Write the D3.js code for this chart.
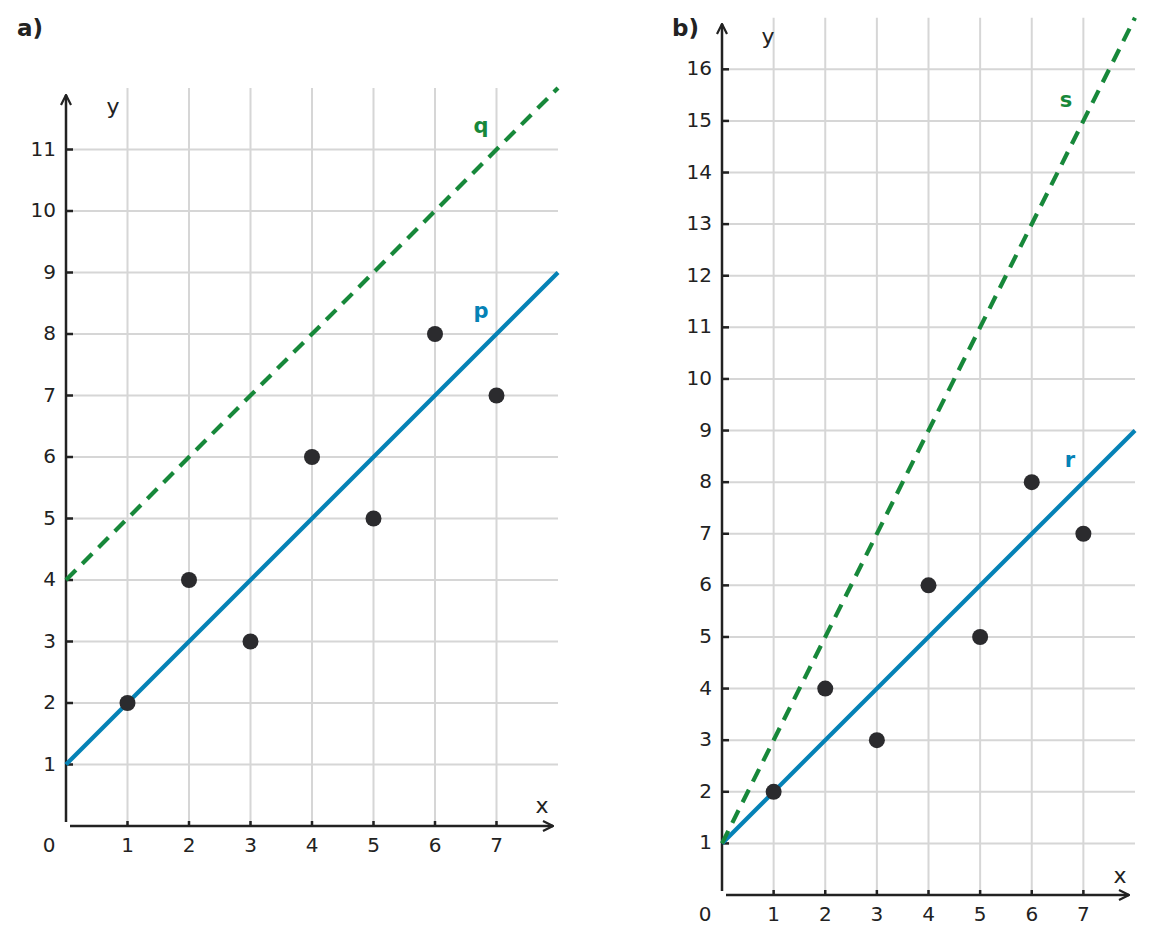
<!DOCTYPE html>
<html>
<head>
<meta charset="utf-8">
<script src="https://d3js.org/d3.v7.min.js"></script>
<style>
  body { margin: 0; background: #fff; }
  svg text { font-family: "DejaVu Sans", sans-serif; fill: #222; }
</style>
</head>
<body>
<svg id="chart" width="1153" height="944"></svg>
<script>
// data points shared by both panels
const pointsX = [1, 2, 3, 4, 5, 6, 7];
const pointsY = [2, 4, 3, 6, 5, 8, 7];
const xTicks = [1, 2, 3, 4, 5, 6, 7];
const ticksA = [1, 2, 3, 4, 5, 6, 7, 8, 9, 10, 11];
const ticksB = [1, 2, 3, 4, 5, 6, 7, 8, 9, 10, 11, 12, 13, 14, 15, 16];
// lines as [slope, intercept]
const linesA = [
  { name: "p", m: 1, b: 1, dashed: false },
  { name: "q", m: 1, b: 4, dashed: true }
];
const linesB = [
  { name: "r", m: 1, b: 1, dashed: false },
  { name: "s", m: 2, b: 1, dashed: true }
];

const BLUE = "#0582b6", GREEN = "#17883a", DARK = "#222";
const svg = d3.select("#chart");

svg.append("defs").append("marker")
  .attr("id", "arrow").attr("viewBox", "0 0 12 12")
  .attr("refX", 11).attr("refY", 6)
  .attr("markerWidth", 12).attr("markerHeight", 12)
  .attr("markerUnits", "userSpaceOnUse").attr("orient", "auto")
  .append("path").attr("d", "M1,1 L11,6 L1,11")
  .attr("fill", "none").attr("stroke", DARK).attr("stroke-width", 2.2);

function panel(opt) {
  const x = d3.scaleLinear().domain([0, 8]).range(opt.xr);
  const y = d3.scaleLinear().domain([0, opt.ymax]).range(opt.yr);
  const g = svg.append("g");

  // grid
  g.selectAll(".vg").data(xTicks).join("line")
    .attr("x1", d => x(d)).attr("x2", d => x(d))
    .attr("y1", y(0)).attr("y2", y(opt.ymax))
    .attr("stroke", "#d6d6d6").attr("stroke-width", 2);
  g.selectAll(".hg").data(opt.yTicks).join("line")
    .attr("x1", x(0)).attr("x2", x(8))
    .attr("y1", d => y(d)).attr("y2", d => y(d))
    .attr("stroke", "#d6d6d6").attr("stroke-width", 2);

  // axes with arrows
  g.append("line")
    .attr("x1", x(0)).attr("x2", x(0))
    .attr("y1", y(0) - 4).attr("y2", opt.yArrow)
    .attr("stroke", DARK).attr("stroke-width", 2.5)
    .attr("marker-end", "url(#arrow)");
  g.append("line")
    .attr("x1", x(0) + 4).attr("x2", opt.xArrow)
    .attr("y1", y(0)).attr("y2", y(0))
    .attr("stroke", DARK).attr("stroke-width", 2.5)
    .attr("marker-end", "url(#arrow)");

  // ticks
  g.selectAll(".yt").data(opt.yTicks).join("line")
    .attr("x1", x(0)).attr("x2", x(0) + 7)
    .attr("y1", d => y(d)).attr("y2", d => y(d))
    .attr("stroke", DARK).attr("stroke-width", 2.5);
  g.selectAll(".xt").data(xTicks).join("line")
    .attr("x1", d => x(d)).attr("x2", d => x(d))
    .attr("y1", y(0)).attr("y2", y(0) - 5)
    .attr("stroke", DARK).attr("stroke-width", 2.5);

  // tick labels
  g.selectAll(".yl").data(opt.yTicks).join("text")
    .attr("x", x(0) - 10).attr("y", d => y(d) + 6)
    .attr("text-anchor", "end").attr("font-size", 20).text(d => d);
  g.selectAll(".xl").data(xTicks).join("text")
    .attr("x", d => x(d)).attr("y", y(0) + 26)
    .attr("text-anchor", "middle").attr("font-size", 20).text(d => d);
  g.append("text").attr("x", x(0) - 17).attr("y", y(0) + 26)
    .attr("text-anchor", "middle").attr("font-size", 20).text("0");

  // axis names
  g.append("text").attr("x", opt.yLab[0]).attr("y", opt.yLab[1])
    .attr("text-anchor", "middle").attr("font-size", 22).text("y");
  g.append("text").attr("x", opt.xLab[0]).attr("y", opt.xLab[1])
    .attr("text-anchor", "middle").attr("font-size", 22).text("x");

  // lines
  opt.lines.forEach(l => {
    const x2 = Math.min(8, (opt.ymax - l.b) / l.m);
    const c = l.dashed ? GREEN : BLUE;
    g.append("line")
      .attr("x1", x(0)).attr("y1", y(l.b))
      .attr("x2", x(x2)).attr("y2", y(l.m * x2 + l.b))
      .attr("stroke", c).attr("stroke-width", 4.2)
      .attr("stroke-dasharray", l.dashed ? "14,9" : null);
  });
  opt.lines.forEach((l, i) => {
    g.append("text").attr("x", opt.lineLab[i][0]).attr("y", opt.lineLab[i][1])
      .attr("text-anchor", "middle").attr("font-size", 21).attr("font-weight", "bold")
      .style("fill", l.dashed ? GREEN : BLUE).text(l.name);
  });

  // points
  g.selectAll(".pt").data(pointsX).join("circle")
    .attr("cx", d => x(d)).attr("cy", (d, i) => y(pointsY[i]))
    .attr("r", 8).attr("fill", "#2b2b2e");

  svg.append("text").attr("x", opt.title[0]).attr("y", opt.title[1])
    .attr("font-size", 23).attr("font-weight", "bold").text(opt.name);
}

panel({
  name: "a)", title: [17, 36],
  xr: [66, 558], yr: [826, 88], ymax: 12, yTicks: ticksA,
  yArrow: 95, xArrow: 553,
  yLab: [113, 114], xLab: [542, 813],
  lines: linesA, lineLab: [[481, 318], [481, 133]]
});
panel({
  name: "b)", title: [672, 36],
  xr: [722, 1135], yr: [895, 17.7], ymax: 17, yTicks: ticksB,
  yArrow: 24, xArrow: 1129,
  yLab: [768, 44], xLab: [1120, 883],
  lines: linesB, lineLab: [[1070, 467], [1066, 107]]
});
</script>
</body>
</html>
